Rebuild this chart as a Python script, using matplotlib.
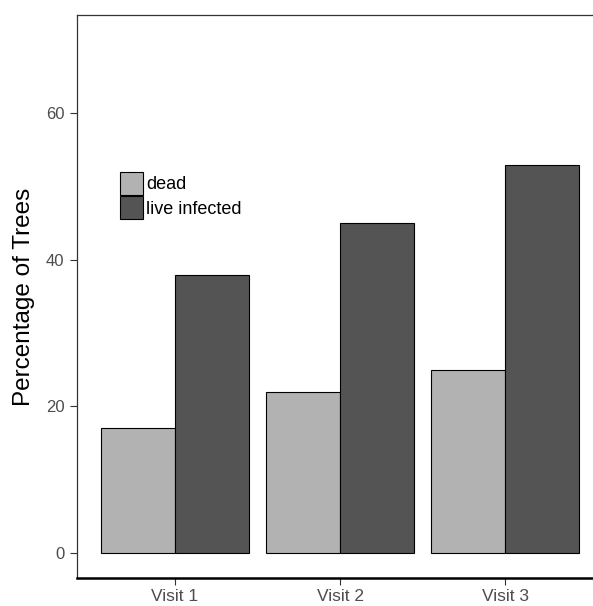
import numpy as np
import matplotlib.pyplot as plt

plt.rcParams['font.family'] = ['Liberation Sans', 'DejaVu Sans']

visits = ['Visit 1', 'Visit 2', 'Visit 3']
dead = [17, 22, 25]
live_infected = [38, 45, 53]

fig = plt.figure(figsize=(5.93, 6.06), dpi=100)
# panel runs off the right edge of the picture, as in the original
ax = fig.add_axes([77/593, 1 - 578/606, 1 - 77/593, (578 - 15)/606])

x = np.arange(1, len(visits) + 1)
w = 0.45
ax.bar(x - w/2, dead, w, color='#b2b2b2', edgecolor='black', linewidth=0.8, label='dead')
ax.bar(x + w/2, live_infected, w, color='#545454', edgecolor='black', linewidth=0.8,
       label='live infected')

ax.set_xlim(0.406, 3.533)
ax.set_ylim(-3.4, 73.4)
ax.set_xticks(x)
ax.set_xticklabels(visits)
ax.set_yticks([0, 20, 40, 60])

ax.tick_params(axis='both', colors='#333333', labelcolor='#4d4d4d', labelsize=12,
               length=5, width=0.8, pad=4)
ax.tick_params(axis='x', pad=3, labelsize=12.5)
ax.set_ylabel('Percentage of Trees', fontsize=17.5, labelpad=8)

ax.spines['right'].set_visible(False)
ax.spines['top'].set_color('#333333')
ax.spines['top'].set_linewidth(0.9)
ax.spines['left'].set_color('#333333')
ax.spines['left'].set_linewidth(0.9)
ax.spines['bottom'].set_color('black')
ax.spines['bottom'].set_linewidth(1.8)

leg = ax.legend(loc='upper left', bbox_to_anchor=(0.083, 0.721), frameon=False,
                fontsize=13, handlelength=1.3, handleheight=1.55, handletextpad=0.15,
                labelspacing=0.1, borderpad=0, borderaxespad=0)

fig.savefig('out.png', dpi=100)
